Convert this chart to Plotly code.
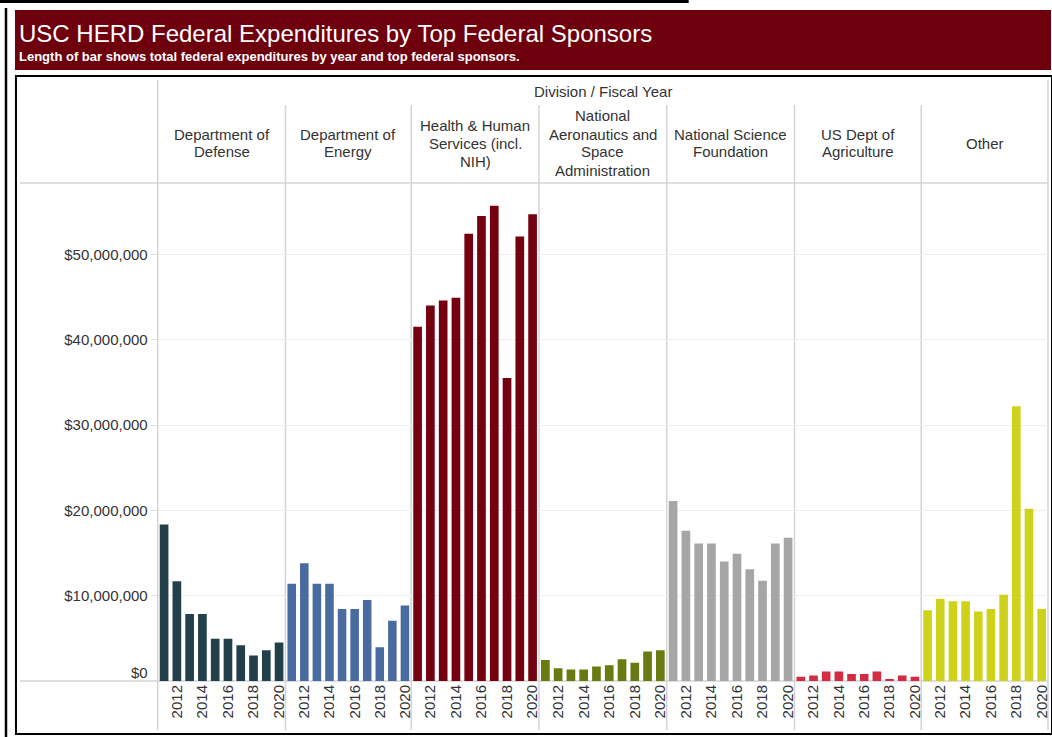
import plotly.graph_objects as go
from plotly.subplots import make_subplots

W, H = 1052, 737

# ---------------- data ----------------
years = [2011, 2012, 2013, 2014, 2015, 2016, 2017, 2018, 2019, 2020]
tick_years = [2012, 2014, 2016, 2018, 2020]
sponsors = [
    ["Department of", "Defense"],
    ["Department of", "Energy"],
    ["Health & Human", "Services (incl.", "NIH)"],
    ["National", "Aeronautics and", "Space", "Administration"],
    ["National Science", "Foundation"],
    ["US Dept of", "Agriculture"],
    ["Other"],
]
dod = [18_350_000, 11_700_000, 7_850_000, 7_850_000, 4_950_000, 4_950_000, 4_200_000, 3_000_000, 3_600_000, 4_500_000]
doe = [11_400_000, 13_800_000, 11_400_000, 11_400_000, 8_450_000, 8_450_000, 9_500_000, 3_950_000, 7_050_000, 8_850_000]
hhs = [41_500_000, 44_000_000, 44_600_000, 44_900_000, 52_400_000, 54_500_000, 55_700_000, 35_500_000, 52_100_000, 54_700_000]
nasa = [2_450_000, 1_500_000, 1_350_000, 1_350_000, 1_700_000, 1_850_000, 2_550_000, 2_150_000, 3_450_000, 3_600_000]
nsf = [21_100_000, 17_600_000, 16_100_000, 16_100_000, 14_000_000, 14_900_000, 13_100_000, 11_750_000, 16_100_000, 16_800_000]
usda = [500_000, 650_000, 1_100_000, 1_100_000, 820_000, 820_000, 1_100_000, 200_000, 650_000, 500_000]
other = [8_300_000, 9_600_000, 9_350_000, 9_350_000, 8_150_000, 8_450_000, 10_100_000, 32_200_000, 20_200_000, 8_450_000]
series = [dod, doe, hhs, nasa, nsf, usda, other]
colors = ["#22404A", "#4A6B9F", "#740010", "#687A12", "#A6A6A6", "#D22B42", "#CFD21A"]
y_ticks = [10_000_000, 20_000_000, 30_000_000, 40_000_000, 50_000_000]
y_ticktext = ["$10,000,000", "$20,000,000", "$30,000,000", "$40,000,000", "$50,000,000"]

# ---------------- layout helpers ----------------
def px(x):
    return x / W

def py(y):
    return 1 - y / H

FONT = "Liberation Sans, Arial, sans-serif"
TXT = "#333333"
dividers = [158, 286, 412, 540, 668, 796, 923, 1050]
plot_top, plot_bot = 183, 681

fig = make_subplots(rows=1, cols=7, shared_yaxes=True, horizontal_spacing=0)

for i, (vals, col) in enumerate(zip(series, colors)):
    fig.add_trace(go.Bar(x=years, y=vals, marker=dict(color=col, line=dict(width=0)),
                         showlegend=False, hovertemplate="%{x}: $%{y:,.0f}<extra></extra>"),
                  row=1, col=i + 1)
    ax = "xaxis" if i == 0 else f"xaxis{i+1}"
    yx = "yaxis" if i == 0 else f"yaxis{i+1}"
    fig.layout[ax].update(
        domain=[px(dividers[i]), px(dividers[i + 1])],
        range=[2010.5, 2020.5], tickmode="array", tickvals=tick_years,
        ticktext=[str(t) for t in tick_years], tickangle=-90,
        tickfont=dict(family=FONT, size=15, color=TXT),
        showgrid=False, zeroline=False, showline=False, ticks="",
    )
    fig.layout[yx].update(
        domain=[py(plot_bot), py(plot_top)], range=[0, 58_360_000],
        showgrid=True, gridcolor="#EEEEEE", gridwidth=1, zeroline=False,
        tickmode="array", tickvals=y_ticks, ticktext=y_ticktext,
        showticklabels=(i == 0), ticks="outside" if i == 0 else "",
        ticklen=6, tickcolor="#E2E2E2",
        tickfont=dict(family=FONT, size=15, color=TXT),
    )

shapes = []
# outer frame lines
shapes.append(dict(type="line", xref="paper", yref="paper", x0=px(0), x1=px(690), y0=py(1.5), y1=py(1.5),
                   line=dict(color="black", width=3), layer="above"))
shapes.append(dict(type="line", xref="paper", yref="paper", x0=px(6), x1=px(6), y0=py(8), y1=py(737),
                   line=dict(color="black", width=2.5), layer="above"))
# header band
shapes.append(dict(type="rect", xref="paper", yref="paper", x0=px(15), x1=px(1053), y0=py(10), y1=py(70),
                   fillcolor="#6E000E", line=dict(width=0), layer="below"))
# chart box
shapes.append(dict(type="rect", xref="paper", yref="paper", x0=px(16), x1=px(1054), y0=py(76), y1=py(734),
                   fillcolor="rgba(0,0,0,0)", line=dict(color="black", width=2), layer="above"))
# header separator and baseline
for yy in (plot_top, plot_bot):
    shapes.append(dict(type="line", xref="paper", yref="paper", x0=px(20), x1=px(1050), y0=py(yy), y1=py(yy),
                       line=dict(color="#D4D4D4", width=1.5), layer="below"))
# vertical dividers
for k, xx in enumerate(dividers):
    top = 80 if k in (0, len(dividers) - 1) else 105
    shapes.append(dict(type="line", xref="paper", yref="paper", x0=px(xx), x1=px(xx), y0=py(top), y1=py(730),
                       line=dict(color="#D4D4D4", width=1.5), layer="below"))

annotations = []
annotations.append(dict(text="USC HERD Federal Expenditures by Top Federal Sponsors", xref="paper", yref="paper",
                        x=px(17), y=py(33), xanchor="left", yanchor="middle", showarrow=False,
                        font=dict(family=FONT, size=24, color="white")))
annotations.append(dict(text="<b>Length of bar shows total federal expenditures by year and top federal sponsors.</b>",
                        xref="paper", yref="paper", x=px(17), y=py(57), xanchor="left", yanchor="middle",
                        showarrow=False,
                        font=dict(family=FONT, size=13, color="white")))
annotations.append(dict(text="Division / Fiscal Year", xref="paper", yref="paper", x=px(604), y=py(92),
                        xanchor="center", yanchor="middle", showarrow=False,
                        font=dict(family=FONT, size=15, color=TXT)))
LINE_H = 18
for i, lines in enumerate(sponsors):
    cx = (dividers[i] + dividers[i + 1]) / 2
    y0 = 143 - LINE_H * (len(lines) - 1) / 2
    for j, line in enumerate(lines):
        annotations.append(dict(text=line, xref="paper", yref="paper", x=px(cx), y=py(y0 + j * LINE_H),
                                xanchor="center", yanchor="middle", showarrow=False,
                                font=dict(family=FONT, size=15, color=TXT)))
annotations.append(dict(text="$0", xref="paper", yref="paper", x=px(150), y=py(672),
                        xanchor="right", yanchor="middle", showarrow=False,
                        font=dict(family=FONT, size=15, color=TXT)))

fig.update_layout(
    width=W, height=H, margin=dict(l=0, r=0, t=0, b=0),
    paper_bgcolor="white", plot_bgcolor="rgba(0,0,0,0)",
    bargap=0.32, shapes=shapes, annotations=annotations, showlegend=False,
)

fig.write_html("out.html", config={"displayModeBar": False},
               post_script="document.body.style.margin='0';document.body.style.overflow='hidden';")
